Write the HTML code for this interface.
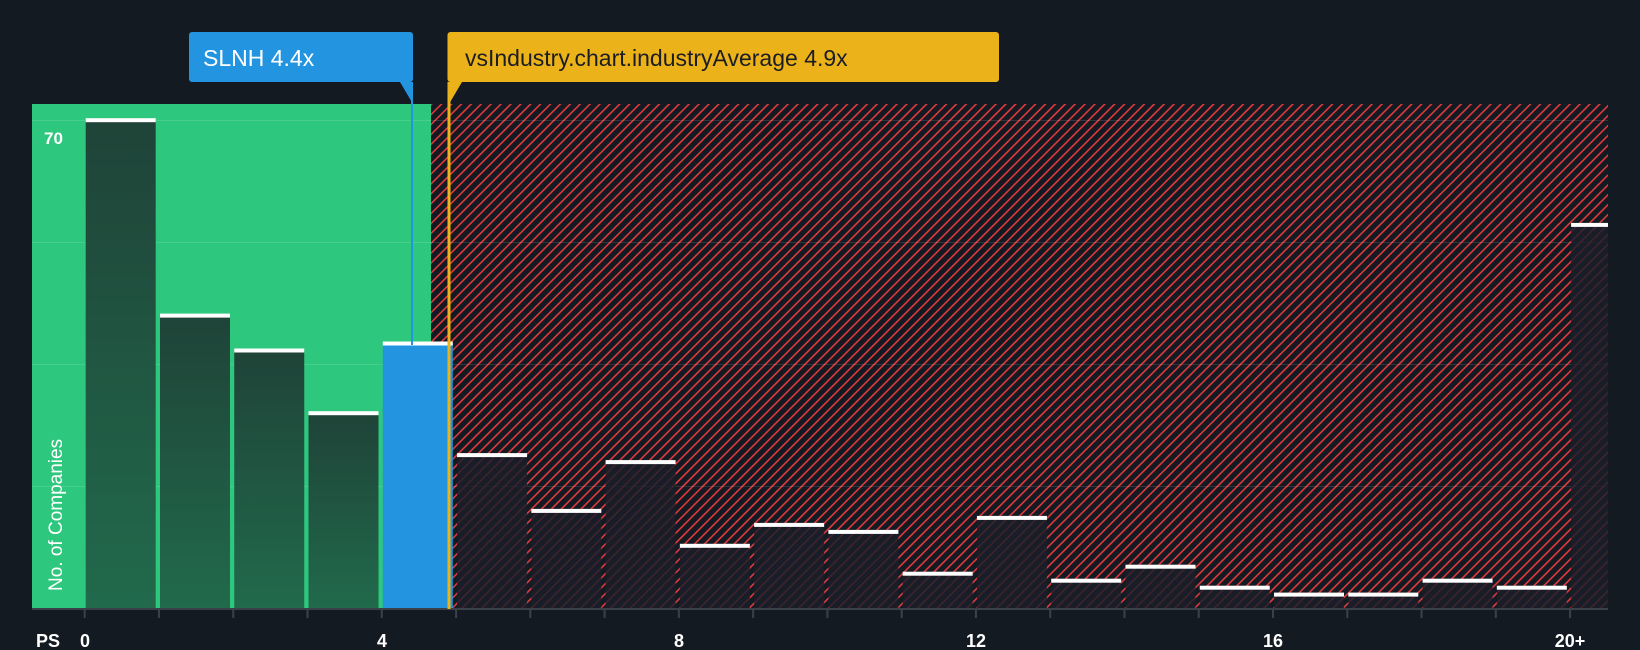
<!DOCTYPE html>
<html><head><meta charset="utf-8"><style>
html,body{margin:0;padding:0;background:#131a22;}
svg{display:block;}
text{font-family:"Liberation Sans",sans-serif;}
</style></head><body>
<svg width="1640" height="650" viewBox="0 0 1640 650" xmlns="http://www.w3.org/2000/svg">
<defs>
<pattern id="h" patternUnits="userSpaceOnUse" width="7" height="10" patternTransform="rotate(45)">
<rect width="7" height="10" fill="#131a22"/>
<rect x="0" y="0" width="1.6" height="10" fill="#e03a3e"/>
</pattern>
<linearGradient id="g" x1="0" y1="0" x2="0" y2="1">
<stop offset="0" stop-color="#1f4338"/><stop offset="1" stop-color="#216a4c"/>
</linearGradient>
</defs>
<rect width="1640" height="650" fill="#131a22"/>
<rect x="32" y="104" width="399" height="505" fill="#2ec77e"/>
<rect x="431" y="104" width="1177" height="505" fill="url(#h)"/>
<g stroke="rgba(255,255,255,0.12)" stroke-width="1">
<line x1="32" y1="120.5" x2="1608" y2="120.5"/>
<line x1="32" y1="242.5" x2="1608" y2="242.5"/>
<line x1="32" y1="364.5" x2="1608" y2="364.5"/>
<line x1="32" y1="486.5" x2="1608" y2="486.5"/>
</g>
<g>
<rect x="85.7" y="120.2" width="70" height="488.4" fill="url(#g)"/>
<rect x="159.97" y="315.6" width="70" height="293" fill="url(#g)"/>
<rect x="234.24" y="350.5" width="70" height="258.1" fill="url(#g)"/>
<rect x="308.51" y="413.2" width="70" height="195.4" fill="url(#g)"/>
<rect x="382.78" y="343.5" width="70" height="265.1" fill="#2394e0"/>
<g fill="rgba(26,30,42,0.82)">
<rect x="457.05" y="455.1" width="70" height="153.5"/>
<rect x="531.32" y="510.9" width="70" height="97.7"/>
<rect x="605.59" y="462.1" width="70" height="146.5"/>
<rect x="679.86" y="545.8" width="70" height="62.8"/>
<rect x="754.13" y="524.9" width="70" height="83.7"/>
<rect x="828.4" y="531.9" width="70" height="76.7"/>
<rect x="902.67" y="573.7" width="70" height="34.9"/>
<rect x="976.94" y="517.9" width="70" height="90.7"/>
<rect x="1051.21" y="580.7" width="70" height="27.9"/>
<rect x="1125.48" y="566.7" width="70" height="41.9"/>
<rect x="1199.75" y="587.7" width="70" height="20.9"/>
<rect x="1274.02" y="594.6" width="70" height="14"/>
<rect x="1348.29" y="594.6" width="70" height="14"/>
<rect x="1422.56" y="580.7" width="70" height="27.9"/>
<rect x="1496.83" y="587.7" width="70" height="20.9"/>
<rect x="1571.1" y="224.9" width="36.9" height="383.7"/>
</g>
<g fill="#ffffff">
<rect x="85.7" y="118.2" width="70" height="4"/>
<rect x="159.97" y="313.6" width="70" height="4"/>
<rect x="234.24" y="348.5" width="70" height="4"/>
<rect x="308.51" y="411.2" width="70" height="4"/>
<rect x="382.78" y="341.5" width="70" height="4"/>
<rect x="457.05" y="453.1" width="70" height="4"/>
<rect x="531.32" y="508.9" width="70" height="4"/>
<rect x="605.59" y="460.1" width="70" height="4"/>
<rect x="679.86" y="543.8" width="70" height="4"/>
<rect x="754.13" y="522.9" width="70" height="4"/>
<rect x="828.4" y="529.9" width="70" height="4"/>
<rect x="902.67" y="571.7" width="70" height="4"/>
<rect x="976.94" y="515.9" width="70" height="4"/>
<rect x="1051.21" y="578.7" width="70" height="4"/>
<rect x="1125.48" y="564.7" width="70" height="4"/>
<rect x="1199.75" y="585.7" width="70" height="4"/>
<rect x="1274.02" y="592.6" width="70" height="4"/>
<rect x="1348.29" y="592.6" width="70" height="4"/>
<rect x="1422.56" y="578.7" width="70" height="4"/>
<rect x="1496.83" y="585.7" width="70" height="4"/>
<rect x="1571.1" y="222.9" width="36.9" height="4"/>
</g>
</g>
<line x1="32" y1="609" x2="1608" y2="609" stroke="#3a414b" stroke-width="2"/>
<g stroke="#3a414b" stroke-width="2">
<line x1="84.7" y1="609" x2="84.7" y2="618"/>
<line x1="158.97" y1="609" x2="158.97" y2="618"/>
<line x1="233.24" y1="609" x2="233.24" y2="618"/>
<line x1="307.51" y1="609" x2="307.51" y2="618"/>
<line x1="381.78" y1="609" x2="381.78" y2="618"/>
<line x1="456.05" y1="609" x2="456.05" y2="618"/>
<line x1="530.32" y1="609" x2="530.32" y2="618"/>
<line x1="604.59" y1="609" x2="604.59" y2="618"/>
<line x1="678.86" y1="609" x2="678.86" y2="618"/>
<line x1="753.13" y1="609" x2="753.13" y2="618"/>
<line x1="827.4" y1="609" x2="827.4" y2="618"/>
<line x1="901.67" y1="609" x2="901.67" y2="618"/>
<line x1="975.94" y1="609" x2="975.94" y2="618"/>
<line x1="1050.21" y1="609" x2="1050.21" y2="618"/>
<line x1="1124.48" y1="609" x2="1124.48" y2="618"/>
<line x1="1198.75" y1="609" x2="1198.75" y2="618"/>
<line x1="1273.02" y1="609" x2="1273.02" y2="618"/>
<line x1="1347.29" y1="609" x2="1347.29" y2="618"/>
<line x1="1421.56" y1="609" x2="1421.56" y2="618"/>
<line x1="1495.83" y1="609" x2="1495.83" y2="618"/>
<line x1="1570.1" y1="609" x2="1570.1" y2="618"/>
</g>
<rect x="411" y="82" width="2" height="263" fill="#2394e0"/>
<polygon points="400,82 413,82 413,104" fill="#2394e0"/>
<rect x="189" y="32" width="224" height="50" rx="3" fill="#2394e0"/>
<text x="203" y="66" font-size="23" fill="#fff">SLNH 4.4x</text>
<rect x="447.5" y="82" width="3" height="527" fill="#ecb21a"/>
<polygon points="447.5,82 462,82 449,104" fill="#ecb21a"/>
<rect x="447.5" y="32" width="551.5" height="50" rx="3" fill="#ecb21a"/>
<text x="465" y="66" font-size="23" fill="#1a1d23">vsIndustry.chart.industryAverage 4.9x</text>
<text x="44" y="144" font-size="17" font-weight="bold" fill="#fff">70</text>
<text transform="translate(62,591) rotate(-90)" font-size="19" fill="#fff">No. of Companies</text>
<g font-size="18" font-weight="bold" fill="#fff" text-anchor="middle">
<text x="48" y="647">PS</text>
<text x="85" y="647">0</text>
<text x="382" y="647">4</text>
<text x="679" y="647">8</text>
<text x="976" y="647">12</text>
<text x="1273" y="647">16</text>
<text x="1570" y="647">20+</text>
</g>
</svg>
</body></html>
